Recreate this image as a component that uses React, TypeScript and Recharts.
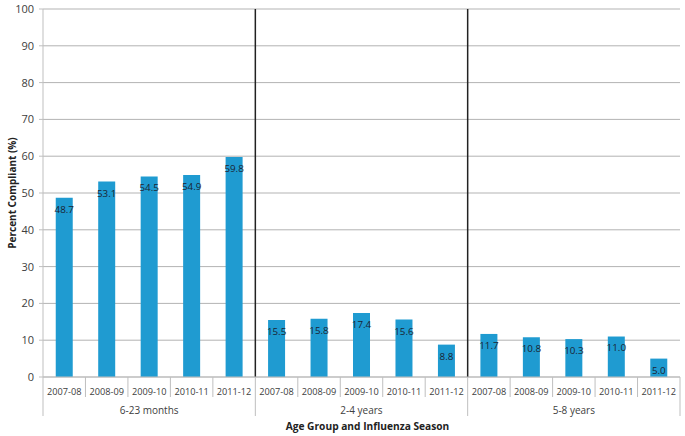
import React from 'react';
import { BarChart, Bar, XAxis, YAxis, CartesianGrid, ReferenceLine, LabelList } from 'recharts';

const groups = ['6-23 months', '2-4 years', '5-8 years'];
const seasons = ['2007-08', '2008-09', '2009-10', '2010-11', '2011-12'];
const infantValues = [48.7, 53.1, 54.5, 54.9, 59.8];
const toddlerValues = [15.5, 15.8, 17.4, 15.6, 8.8];
const childValues = [11.7, 10.8, 10.3, 11.0, 5.0];
const yTicks = [0, 10, 20, 30, 40, 50, 60, 70, 80, 90, 100];

const seriesByGroup = [infantValues, toddlerValues, childValues];
const data = groups.flatMap((g, gi) =>
  seasons.map((s, si) => ({ key: `${g}|${s}`, group: g, season: s, value: seriesByGroup[gi][si] }))
);

const FONT = '"Open Sans", "Noto Sans", sans-serif';
const AXIS_GRAY = '#bfbfbf';
const TEXT = '#404040';

const SeasonTick = (props: any) => {
  const { x, y, payload, index } = props;
  const half = typeof payload.offset === 'number' && payload.offset > 0 ? payload.offset : 637 / 15 / 2;
  const [group, season] = String(payload.value).split('|');
  const groupEnd = index % 5 === 4;
  return (
    <g>
      <text x={x} y={y + 17.5} textAnchor="middle" fontSize={9.2} fontFamily={FONT} fill={TEXT}>
        {season}
      </text>
      <line x1={x + half} x2={x + half} y1={y} y2={y + (groupEnd ? 39 : 20)} stroke={AXIS_GRAY} />
      {index === 0 && <line x1={x - half} x2={x - half} y1={y} y2={y + 39} stroke={AXIS_GRAY} />}
      {index % 5 === 2 && (
        <text x={x} y={y + 37} textAnchor="middle" fontSize={10} fontFamily={FONT} fill={TEXT}>
          {group}
        </text>
      )}
      {index === 7 && (
        <text x={x + 6} y={y + 53} textAnchor="middle" fontSize={10.2} fontWeight="bold" fontFamily={FONT} fill="#222">
          Age Group and Influenza Season
        </text>
      )}
    </g>
  );
};

const YTitle = (props: any) => {
  const vb = props.viewBox || { x: 0, y: 9, width: 43, height: 368 };
  const cx = vb.x + 12;
  const cy = vb.y + vb.height / 2;
  return (
    <text
      x={cx}
      y={cy}
      transform={`rotate(-90 ${cx} ${cy})`}
      textAnchor="middle"
      dominantBaseline="central"
      fontSize={10}
      fontWeight="bold"
      fontFamily={FONT}
      fill="#222"
    >
      Percent Compliant (%)
    </text>
  );
};

export default function App() {
  return (
    <div style={{ position: 'absolute', left: 0, top: 0, background: '#fff' }}>
      <BarChart
        width={685}
        height={436}
        data={data}
        margin={{ top: 9, right: 5, left: 0, bottom: 0 }}
        barCategoryGap="30%"
      >
        <CartesianGrid vertical={false} stroke="#b3b3b3" />
        <XAxis
          dataKey="key"
          height={59}
          interval={0}
          tickLine={false}
          tickSize={0}
          tickMargin={0}
          axisLine={{ stroke: AXIS_GRAY }}
          tick={<SeasonTick />}
        />
        <YAxis
          width={43}
          domain={[0, 100]}
          ticks={yTicks}
          interval={0}
          tickSize={4}
          tickMargin={5}
          tickLine={{ stroke: AXIS_GRAY }}
          axisLine={{ stroke: AXIS_GRAY }}
          tick={{ fontSize: 11, fontFamily: FONT, fill: TEXT }}
          label={<YTitle />}
        />
        <ReferenceLine x={data[5].key} position="start" stroke="#222" strokeWidth={1.5} />
        <ReferenceLine x={data[10].key} position="start" stroke="#222" strokeWidth={1.5} />
        <Bar dataKey="value" fill="#1f9bd1" isAnimationActive={false}>
          <LabelList
            dataKey="value"
            position="insideTop"
            offset={8}
            formatter={(v: any) => Number(v).toFixed(1)}
            style={{ fontSize: 9.8, fontFamily: FONT, fill: '#1a2433' }}
          />
        </Bar>
      </BarChart>
    </div>
  );
}
